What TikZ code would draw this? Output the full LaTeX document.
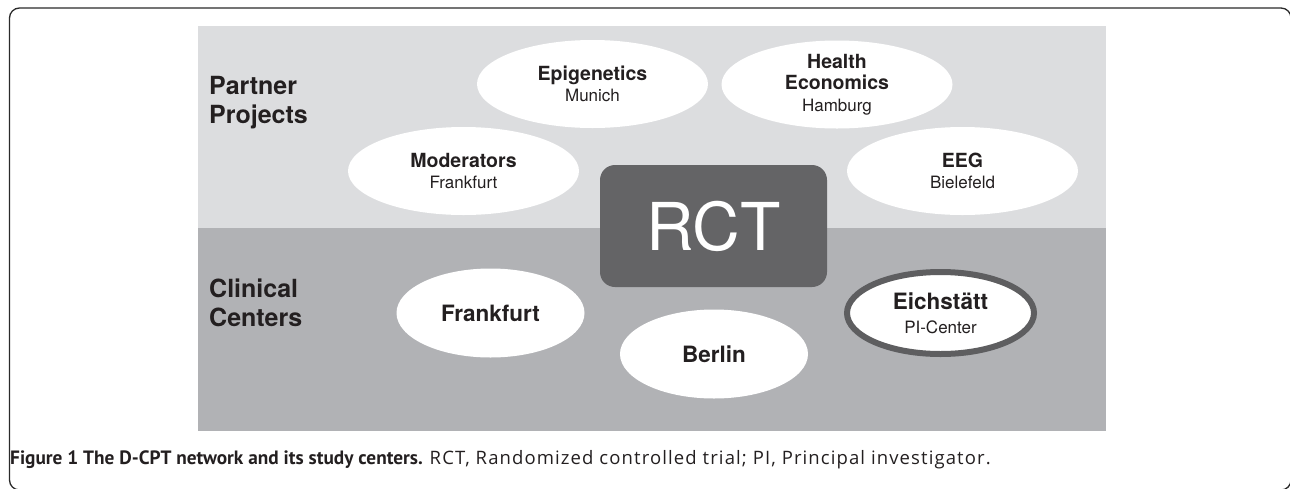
\documentclass[tikz,border=0pt]{standalone}
\usepackage{fontspec}
\setmainfont{TeX Gyre Heros}
\newfontfamily\captionbold{PT Sans}
\newfontfamily\captionfont[LetterSpace=6]{Open Sans}
\usetikzlibrary{shapes.geometric}

\definecolor{panellight}{HTML}{DCDDDF}
\definecolor{paneldark}{HTML}{B1B2B5}
\definecolor{rctgrey}{HTML}{646466}
\definecolor{ringgrey}{HTML}{5E5E60}
\definecolor{ink}{HTML}{231F20}
\definecolor{framegrey}{HTML}{2A2A2A}

\begin{document}
\begin{tikzpicture}[x=1pt,y=-1pt,
  framebox/.style={draw=framegrey, line width=1.3pt, rounded corners=10pt},
  rowlabel/.style={anchor=base west, inner sep=0pt, align=left, text=ink,
    font=\fontsize{25}{29}\selectfont\bfseries},
  project/.style={ellipse, fill=white, minimum width=231, minimum height=88,
    inner xsep=0pt, inner ysep=-3pt, align=center, text=ink,
    font=\fontsize{19.5}{21.5}\selectfont},
  center/.style={ellipse, fill=white, minimum width=188, minimum height=89,
    inner xsep=0pt, inner ysep=-3pt, align=center, text=ink,
    font=\fontsize{22.5}{24}\selectfont},
  picenter/.style={center, draw=ringgrey, line width=6pt,
    minimum width=187, minimum height=82},
  rctbox/.style={fill=rctgrey, rounded corners=15pt, minimum width=227,
    minimum height=122, inner sep=0pt, text=white,
    font=\fontsize{66}{66}\selectfont}
]
\useasboundingbox (0,0) rectangle (1290,488);

% outer figure frame, running off the right and bottom edges
\begin{scope}
  \clip (0,0) rectangle (1290,488);
  \draw[framebox] (9.5,8) rectangle (1291,490);
\end{scope}

% two horizontal bands
\fill[panellight] (198,26) rectangle (1106,228);
\fill[paneldark] (198,228) rectangle (1106,431);

% band labels
\node[rowlabel] (partner) at (209,123) {Partner\\Projects};
\node[rowlabel] (clinical) at (209,326) {Clinical\\Centers};

% partner projects
\node[project] (epi) at (592.5,84) {\bfseries Epigenetics\\\fontsize{17}{21.5}\selectfont Munich};
\node[project] (health) at (837,84.5) {\bfseries Health\\\bfseries Economics\\\fontsize{17}{21.5}\selectfont Hamburg};
\node[project] (moder) at (463.5,171) {\bfseries Moderators\\\fontsize{17}{21.5}\selectfont Frankfurt};
\node[project] (eeg) at (962.5,171) {\bfseries EEG\\\fontsize{17}{21.5}\selectfont Bielefeld};

% central trial
\node[rctbox] (rct) at (713.5,226) {RCT};

% clinical centers
\node[center] (ffm) at (490.5,313) {\bfseries Frankfurt};
\node[center] (berlin) at (714,354) {\bfseries Berlin};
\node[picenter] (eich) at (940.5,313) {\bfseries Eichst\"att\\\fontsize{17}{24}\selectfont PI-Center};

% caption
\node[anchor=base west, inner sep=0pt, text=ink,
  font=\fontsize{18.5}{22}\selectfont] (caption) at (10,464)
  {{\captionbold\fontsize{19.3}{22}\selectfont\bfseries Figure 1 The D-CPT network and its study centers.} {\captionfont RCT, Randomized controlled trial; PI, Principal investigator.}};
\end{tikzpicture}
\end{document}
